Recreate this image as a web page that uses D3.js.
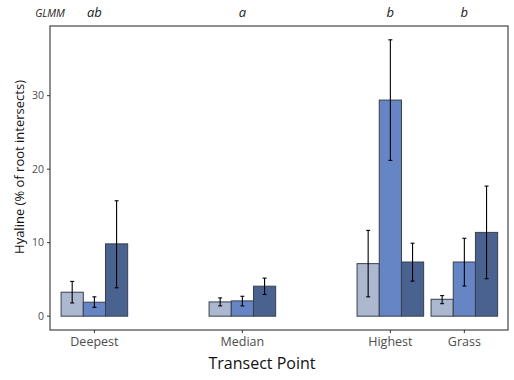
<!DOCTYPE html>
<html><head><meta charset="utf-8">
<script src="https://cdn.jsdelivr.net/npm/d3@7"></script>
<style>body{margin:0;background:#fff;} svg{display:block;}</style>
</head><body>
<script>
const categories = ["Deepest","Median","Highest","Grass"];
const catPos = [1,3,5,6];
const sigLetters = ["ab","a","b","b"];
const seriesNames = ["s1","s2","s3"];
const colors = ["#abb8d0","#6685c4","#4a6290"];
const means = [[3.26,1.9,9.84],[1.94,2.08,4.08],[7.15,29.4,7.37],[2.3,7.37,11.4]];
const errHi = [[4.73,2.63,15.7],[2.49,2.71,5.18],[11.67,37.6,9.93],[2.8,10.6,17.7]];
const errLo = [[1.8,1.2,3.86],[1.4,1.4,2.95],[2.63,21.2,4.77],[1.7,4.1,5.1]];
const yTicks = [0,10,20,30];

const W=514,H=380;
const L=50,R=508,T=26,B=330;
const svg=d3.select("body").append("svg").attr("width",W).attr("height",H);
const font="'Open Sans', 'Noto Sans', sans-serif";
const x=d3.scaleLinear().domain([0.4,6.59]).range([L,R]);
const y=d3.scaleLinear().domain([-1.88,39.48]).range([B,T]);
const bw=0.3;

const rows=[];
categories.forEach((c,i)=>seriesNames.forEach((s,j)=>rows.push({c,i,j,m:means[i][j],hi:errHi[i][j],lo:errLo[i][j],xc:catPos[i]+(j-1)*bw})));

svg.append("g").selectAll("rect").data(rows).join("rect")
  .attr("x",d=>x(d.xc-bw/2)).attr("width",d=>x(d.xc+bw/2)-x(d.xc-bw/2))
  .attr("y",d=>y(d.m)).attr("height",d=>y(0)-y(d.m))
  .attr("fill",d=>colors[d.j]).attr("stroke","#3a3f4c").attr("stroke-width",1);

const eg=svg.append("g").attr("stroke","#000").attr("stroke-width",1.1);
rows.forEach(d=>{
  const cx=x(d.xc);
  eg.append("line").attr("x1",cx).attr("x2",cx).attr("y1",y(d.lo)).attr("y2",y(d.hi));
  eg.append("line").attr("x1",cx-2).attr("x2",cx+2).attr("y1",y(d.lo)).attr("y2",y(d.lo));
  eg.append("line").attr("x1",cx-2).attr("x2",cx+2).attr("y1",y(d.hi)).attr("y2",y(d.hi));
});

svg.append("rect").attr("x",L).attr("y",T).attr("width",R-L).attr("height",B-T)
  .attr("fill","none").attr("stroke","#333").attr("stroke-width",1.1);

const ya=svg.append("g");
yTicks.forEach(t=>{
  ya.append("line").attr("x1",L-3).attr("x2",L).attr("y1",y(t)).attr("y2",y(t)).attr("stroke","#333");
  ya.append("text").attr("x",L-6).attr("y",y(t)).attr("dy","0.35em").attr("text-anchor","end")
    .attr("font-family",font).attr("font-size",10.5).attr("fill","#4d4d4d").text(t);
});
categories.forEach((c,i)=>{
  const cx=x(catPos[i]);
  svg.append("line").attr("x1",cx).attr("x2",cx).attr("y1",B).attr("y2",B+3).attr("stroke","#333");
  svg.append("text").attr("x",cx).attr("y",B+16).attr("text-anchor","middle")
    .attr("font-family",font).attr("font-size",12.5).attr("fill","#4d4d4d").text(c);
  svg.append("text").attr("x",cx).attr("y",17).attr("text-anchor","middle")
    .attr("font-family",font).attr("font-style","italic").attr("font-size",13).attr("fill","#222").text(sigLetters[i]);
});
svg.append("text").attr("x",50).attr("y",17).attr("text-anchor","middle")
  .attr("font-family",font).attr("font-style","italic").attr("font-size",10.5).attr("fill","#222").text("GLMM");
svg.append("text").attr("x",(L+R)/2-17).attr("y",369).attr("text-anchor","middle")
  .attr("font-family",font).attr("font-size",16).attr("fill","#111").text("Transect Point");
svg.append("text").attr("transform",`translate(24,167) rotate(-90)`).attr("text-anchor","middle")
  .attr("font-family",font).attr("font-size",13).attr("fill","#111").text("Hyaline (% of root intersects)");
</script>
</body></html>
